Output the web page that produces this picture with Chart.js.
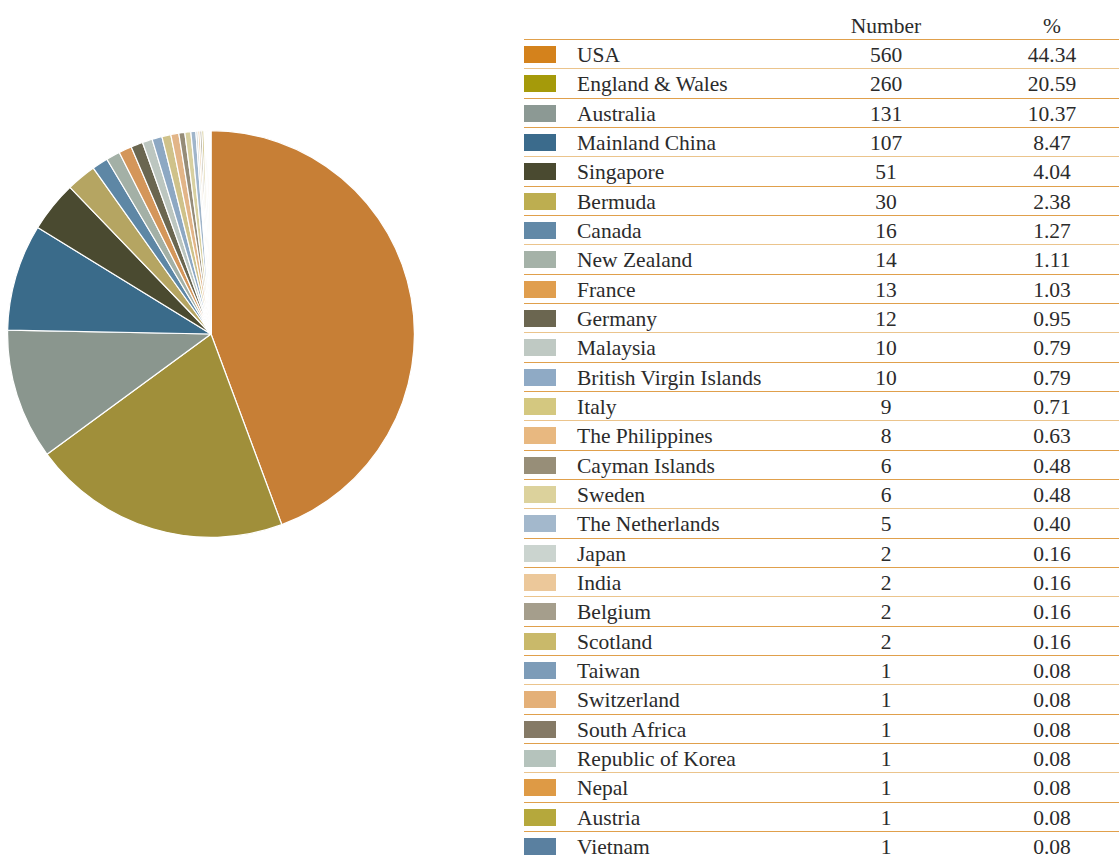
<!DOCTYPE html>
<html>
<head>
<meta charset="utf-8">
<style>
    body { margin: 0; background: #fff; width: 1119px; height: 857px; overflow: hidden; position: relative; }
    #pieBox { position: absolute; left: 7px; top: 130px; width: 408px; height: 408px; }
    #table { position: absolute; left: 524px; top: 0; width: 595px; }
    .hdr { position: absolute; top: 13px; font-size: 21.5px; line-height: 26px; text-align: center; color: #2b2b2b; }
    .row { position: absolute; left: 0; width: 595px; height: 29px; border-top: 1.5px solid #E0A04C; }
    .row.alt { border-top-color: #EBC48C; }
    .sw { position: absolute; left: 0; top: 6px; width: 32px; height: 17px; }
    .cell { position: absolute; top: 2px; font-size: 21.5px; line-height: 26px; color: #2b2b2b; }
</style>
</head>
<body>
<div id="pieBox"><canvas id="originChart"></canvas></div>
<div id="table"></div>
<script src="https://cdn.jsdelivr.net/npm/chart.js"></script>
<script>
    const countries = ["USA", "England & Wales", "Australia", "Mainland China", "Singapore", "Bermuda", "Canada",
        "New Zealand", "France", "Germany", "Malaysia", "British Virgin Islands", "Italy", "The Philippines",
        "Cayman Islands", "Sweden", "The Netherlands", "Japan", "India", "Belgium", "Scotland", "Taiwan",
        "Switzerland", "South Africa", "Republic of Korea", "Nepal", "Austria", "Vietnam"];
    const numbers = [560, 260, 131, 107, 51, 30, 16, 14, 13, 12, 10, 10, 9, 8, 6, 6, 5, 2, 2, 2, 2, 1, 1, 1, 1, 1, 1, 1];
    const percents = ["44.34", "20.59", "10.37", "8.47", "4.04", "2.38", "1.27", "1.11", "1.03", "0.95", "0.79", "0.79",
        "0.71", "0.63", "0.48", "0.48", "0.40", "0.16", "0.16", "0.16", "0.16", "0.08", "0.08", "0.08", "0.08",
        "0.08", "0.08", "0.08"];

    // slice fills are a touch softer than the swatches in the table
    const sliceColors = ["#C77F36", "#A08F3A", "#8A968E", "#3A6B8A", "#4A4A30", "#B5A562", "#5E87A5", "#A3B0A6",
        "#D4965A", "#6A6650", "#BCC6C0", "#8DA8C3", "#CFC28A", "#E2B588", "#958C78", "#D8D0A0", "#A0B5CA",
        "#C8D0CC", "#E8C8A0", "#A59E8C", "#C4B56A", "#7B9AB5", "#E0AE78", "#857A66", "#B4C2BB", "#D9963F",
        "#B3A63E", "#587F9E"];
    const swatchColors = ["#D4821C", "#A59A0A", "#8C9994", "#3B6B8C", "#4A4A30", "#BDAE50", "#6289A7", "#A5B2A8",
        "#E09E4E", "#6B6650", "#BFC9C3", "#8FAAC5", "#D4C880", "#E8B880", "#978E78", "#DCD29C", "#A3B8CC",
        "#CBD4CF", "#ECC89A", "#A59E8C", "#C9B96A", "#7D9CB8", "#E4B078", "#857A66", "#B5C3BC", "#DE9A45",
        "#B5A83C", "#5A80A0"];

    const serif = "font-family:'Liberation Serif','Times New Roman',serif;";

    // table on the right
    const table = document.getElementById("table");
    const rowTop = 39, rowH = 29.33;

    table.innerHTML =
        `<div class="hdr" style="${serif}left:262px;width:200px">Number</div>` +
        `<div class="hdr" style="${serif}left:428px;width:200px">%</div>`;

    countries.forEach((name, i) => {
        const row = document.createElement("div");
        row.className = "row" + (i % 3 === 1 ? " alt" : "");
        row.style.top = (rowTop + rowH * i) + "px";
        row.innerHTML =
            `<div class="sw" style="background:${swatchColors[i]}"></div>` +
            `<div class="cell" style="${serif}left:53px">${name.replace("&", "&amp;")}</div>` +
            `<div class="cell" style="${serif}left:262px;width:200px;text-align:center">${numbers[i]}</div>` +
            `<div class="cell" style="${serif}left:428px;width:200px;text-align:center">${percents[i]}</div>`;
        table.appendChild(row);
    });

    new Chart(document.getElementById("originChart"), {
        type: "pie",
        data: {
            labels: countries,
            datasets: [{
                data: numbers,
                backgroundColor: sliceColors,
                borderColor: "#ffffff",
                borderWidth: 1.2
            }]
        },
        options: {
            responsive: true,
            maintainAspectRatio: false,
            animation: false,
            layout: { padding: 0 },
            plugins: {
                legend: { display: false },
                tooltip: { enabled: false }
            }
        }
    });
</script>
</body>
</html>
